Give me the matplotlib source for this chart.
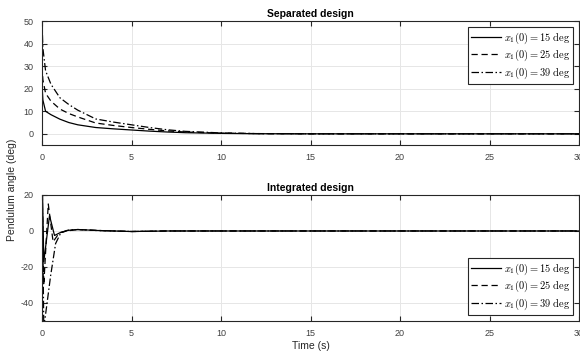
import matplotlib.pyplot as plt

plt.rcParams['font.family'] = ['Liberation Sans', 'DejaVu Sans']
plt.rcParams['mathtext.fontset'] = 'cm'
plt.rcParams['axes.unicode_minus'] = False

labels = [r'$x_1(0) = 15\ \mathrm{deg}$', r'$x_1(0) = 25\ \mathrm{deg}$', r'$x_1(0) = 39\ \mathrm{deg}$']
styles = ['-', (0, (5, 3)), (0, (6, 2, 1.2, 2))]

# Separated design (top)
t_sep = [0, 0.05, 0.2, 0.5, 1, 1.5, 2, 3, 4, 5, 6, 7, 8, 10, 12, 15, 30]
sep_15 = [22, 15, 10, 8.5, 6.5, 5, 4, 2.8, 2.2, 1.7, 1.2, 0.8, 0.5, 0.2, 0.05, 0, 0]
sep_25 = [30, 24, 18, 14.5, 11, 9, 7.5, 4.8, 3.7, 2.8, 2.0, 1.3, 0.8, 0.3, 0.1, 0, 0]
sep_39 = [50, 38, 28, 22, 16, 13, 10.5, 6.6, 5.2, 4, 2.8, 1.8, 1.1, 0.4, 0.1, 0, 0]

# Integrated design (bottom)
t_int_15 = [0, 0.03, 0.1, 0.42, 0.7, 1.0, 1.4, 2.0, 3, 5, 7, 30]
int_15 = [15, 20, -17, 8.5, -2.5, -1, 0.3, 0.8, 0.3, -0.3, 0, 0]
t_int_25 = [0, 0.1, 0.35, 0.62, 0.97, 1.3, 1.6, 2.0, 3, 5, 7, 30]
int_25 = [25, -30, 15, -6, -1, -0.2, 0.3, 0.8, 0.3, -0.3, 0, 0]
t_int_39 = [0, 0.1, 0.48, 0.76, 1.05, 1.5, 2.0, 3, 5, 7, 30]
int_39 = [39, -54, -25, -7, -1, 0.5, 0.8, 0.3, -0.3, 0, 0]

fig = plt.figure(figsize=(5.8, 3.53), dpi=100)
ax1 = fig.add_axes([0.0724, 0.589, 0.926, 0.351])
ax2 = fig.add_axes([0.0724, 0.0907, 0.926, 0.357])

for t, y, ls, lab in zip([t_sep] * 3, [sep_15, sep_25, sep_39], styles, labels):
    ax1.plot(t, y, color='black', lw=0.9, linestyle=ls, label=lab)
for t, y, ls, lab in zip([t_int_15, t_int_25, t_int_39], [int_15, int_25, int_39], styles, labels):
    ax2.plot(t, y, color='black', lw=0.9, linestyle=ls, label=lab)

ax1.set_ylim(-5, 50)
ax1.set_yticks([0, 10, 20, 30, 40, 50])
ax2.set_ylim(-50, 20)
ax2.set_yticks([-40, -20, 0, 20])

for ax, title, loc in [(ax1, 'Separated design', 'upper right'), (ax2, 'Integrated design', 'lower right')]:
    ax.set_xlim(0, 30)
    ax.set_xticks([0, 5, 10, 15, 20, 25, 30])
    ax.grid(True, color='#e6e6e6', lw=0.7)
    ax.set_axisbelow(True)
    ax.tick_params(direction='in', length=3.5, width=0.8, top=True, right=True,
                   labelsize=6.5, color='#262626', labelcolor='#404040', pad=6)
    for s in ax.spines.values():
        s.set_color('#262626')
        s.set_linewidth(0.8)
    ax.set_title(title, fontsize=7.5, fontweight='bold', pad=3)
    leg = ax.legend(loc=loc, fontsize=7.5, frameon=True, fancybox=False, framealpha=1,
                    edgecolor='#262626', handlelength=2.9, handletextpad=0.2,
                    borderpad=0.3, labelspacing=0.2, borderaxespad=0.6)
    leg.get_frame().set_linewidth(0.8)

ax2.set_xlabel('Time (s)', fontsize=7.5, color='#262626', labelpad=2)
fig.text(0.021, 0.462, 'Pendulum angle (deg)', rotation=90, ha='center', va='center',
         fontsize=7.5, color='#262626')

fig.savefig('out.png', dpi=100)
